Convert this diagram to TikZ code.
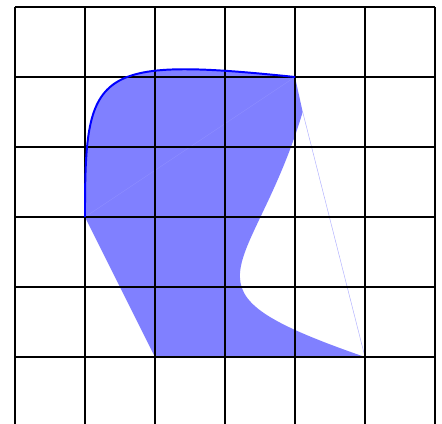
\documentclass[tikz,border=0pt]{standalone}
\begin{document}
\begin{tikzpicture}[
  gridline/.style={black, line width=0.85pt},
  shapefill/.style={fill=blue!50},
  topedge/.style={blue, line width=0.8pt},
  seam/.style={blue!30, line width=0.2pt}
]
\useasboundingbox (-0.214,0.057) rectangle (6.1,6.1);
\coordinate (A) at (1,3);
\coordinate (B) at (4,5);
\coordinate (C) at (4.11,4.5);
\coordinate (D) at (5,1);
\coordinate (E) at (2,1);
\fill[shapefill] (A) .. controls (1,5.1) and (1.1,5.3) .. (B)
  -- (C) .. controls (3.39,2.1) and (2.15,1.99) .. (D) -- (E) -- cycle;
\draw[seam] (C) -- (D);
\draw[white, opacity=0.1, line width=0.2pt] (A) -- (B);
\draw[gridline] (0,0) grid (6,6);
\draw[topedge] (A) .. controls (1,5.1) and (1.1,5.3) .. (B);
\end{tikzpicture}
\end{document}
